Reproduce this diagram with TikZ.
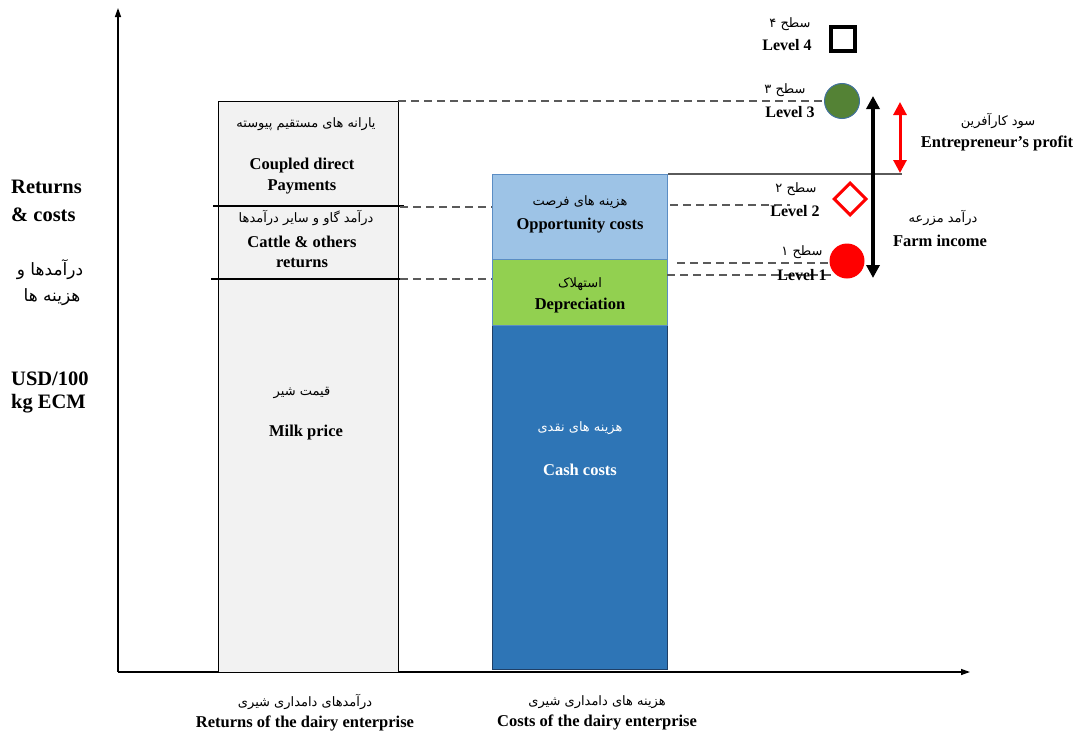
\documentclass[tikz,border=0pt]{standalone}
\usepackage{fontspec}
\setmainfont{Liberation Serif}
\newfontfamily\fa[Script=Arabic]{DejaVu Sans}
\TeXXeTstate=1
\usetikzlibrary{arrows.meta,shapes.geometric}
\definecolor{boxgray}{HTML}{F2F2F2}
\definecolor{oppblue}{HTML}{9DC3E6}
\definecolor{oppedge}{HTML}{5B8DC4}
\definecolor{depgreen}{HTML}{92D050}
\definecolor{cashblue}{HTML}{2E75B6}
\definecolor{cashedge}{HTML}{1F3F66}
\definecolor{lvgreen}{HTML}{548235}
\definecolor{lvedge}{HTML}{41719C}
\definecolor{dashgray}{HTML}{5A5A5A}
\newcommand{\pr}[1]{{\fa\beginR #1\endR}}
\begin{document}
\begin{tikzpicture}[x=1pt,y=-1pt,
  en/.style={font=\bfseries\fontsize{16.5}{19}\selectfont, align=center, inner sep=0pt},
  enlv/.style={font=\bfseries\fontsize{16}{18}\selectfont, align=center, inner sep=0pt},
  enL/.style={font=\bfseries\fontsize{20.5}{24}\selectfont, align=left, inner sep=0pt},
  fa/.style={font=\fa\fontsize{13}{15}\selectfont, inner sep=0pt},
  faL/.style={font=\fa\fontsize{17}{20}\selectfont, inner sep=0pt},
  bar/.style={draw, anchor=north west, inner sep=0pt, line width=1.2pt},
  dashline/.style={draw=dashgray, line width=1.2pt, dash pattern=on 8pt off 5pt},
  axis/.style={line width=1.3pt, -{Triangle[length=9pt,width=6pt]}},
  bigarrow/.style={line width=3.5pt, {Triangle[length=13pt,width=13pt]}-{Triangle[length=13pt,width=13pt]}}
]
\useasboundingbox (0,0) rectangle (1081,736);

% axes
\coordinate (O) at (118,672);
\coordinate (ytop) at (118,8);
\coordinate (xend) at (970,672);
\draw[axis] (O) -- (ytop);
\draw[axis] (O) -- (xend);

% returns bar
\node[bar, fill=boxgray, minimum width=180pt, minimum height=571pt] (ret) at (218,101) {};
\coordinate (r1l) at (213,206); \coordinate (r1r) at (404,206);
\coordinate (r2l) at (211,279); \coordinate (r2r) at (404,279);
\draw[line width=1.2pt] (r1l) -- (r1r);
\draw[line width=1.2pt] (r2l) -- (r2r);

% cost bar
\node[bar, draw=cashedge, fill=cashblue, minimum width=175pt, minimum height=344pt] (cash) at (492,325) {};
\node[bar, draw=oppedge, fill=depgreen, minimum width=175pt, minimum height=66pt] (dep) at (492,259) {};
\node[bar, draw=oppedge, fill=oppblue, minimum width=175pt, minimum height=85pt] (opp) at (492,174) {};

% level markers
\node[draw, line width=4.5pt, minimum size=24pt, inner sep=0pt] (lv4) at (843,39) {};
\node[circle, draw=lvedge, fill=lvgreen, line width=1pt, minimum size=35pt, inner sep=0pt] (lv3) at (842,101) {};
\node[diamond, draw=red, line width=3pt, minimum size=33pt, inner sep=0pt] (lv2) at (850,199) {};
\node[circle, fill=red, minimum size=35pt, inner sep=0pt] (lv1) at (847,261) {};

% solid line at top of cost bar
\coordinate (topend) at (902,174);
\draw[line width=1.2pt, draw=dashgray] (opp.north east) -- (topend);

% dashed lines
\coordinate (d3b) at (398,101);
\draw[dashline] (d3b) -- (lv3.west);
\coordinate (da1) at (400,207); \coordinate (da2) at (492,207);
\draw[dashline] (da1) -- (da2);
\coordinate (db1) at (400,279); \coordinate (db2) at (492,279);
\draw[dashline] (db1) -- (db2);
\coordinate (dc1) at (670,205); \coordinate (dc2) at (790,205);
\draw[dashline] (dc1) -- (dc2);
\coordinate (dd1) at (677,263); \coordinate (dd2) at (832,263);
\draw[dashline] (dd1) -- (dd2);
\coordinate (de1) at (667,275); \coordinate (de2) at (832,275);
\draw[dashline] (de1) -- (de2);

% vertical arrows
\coordinate (fa1) at (873,96); \coordinate (fa2) at (873,278);
\draw[bigarrow] (fa1) -- (fa2);
\coordinate (ep1) at (900,102); \coordinate (ep2) at (900,173);
\draw[bigarrow, red, line width=3pt] (ep1) -- (ep2);

% axis labels
\node[enL, anchor=west] (ylab1) at (11,187) {Returns};
\node[enL, anchor=west] (ylab2) at (11,215) {\&\ costs};
\node[faL] (ylab3) at (50,270) {\pr{درآمدها و}};
\node[faL] (ylab4) at (52,297) {\pr{هزینه ها}};
\node[enL, anchor=west] (ylab5) at (11,379) {USD/100};
\node[enL, anchor=west] (ylab6) at (11,404) {kg ECM};

% returns bar texts
\node[fa] (t1) at (306,124) {\pr{یارانه های مستقیم پیوسته}};
\node[en] (t2) at (302,166) {Coupled direct};
\node[en] (t3) at (302,187) {Payments};
\node[fa] (t4) at (306,218) {\pr{درآمد گاو و سایر درآمدها}};
\node[en] (t5) at (302,242) {Cattle \&\ others};
\node[en] (t6) at (302,263) {returns};
\node[fa] (t7) at (302,393) {\pr{قیمت شیر}};
\node[en] (t8) at (306,433) {Milk price};

% cost bar texts
\node[fa] (c1) at (580,202) {\pr{هزینه های فرصت}};
\node[en] (c2) at (580,226) {Opportunity costs};
\node[fa] (c3) at (580,284) {\pr{استهلاک}};
\node[en] (c4) at (580,306) {Depreciation};
\node[fa, text=white] (c5) at (580,428) {\pr{هزینه های نقدی}};
\node[en, text=white] (c6) at (580,470) {Cash costs};

% level labels
\node[fa] (l4a) at (790,24) {\pr{سطح ۴}};
\node[enlv] (l4b) at (787,45) {Level 4};
\node[fa] (l3a) at (785,90) {\pr{سطح ۳}};
\node[enlv] (l3b) at (790,112) {Level 3};
\node[fa] (l2a) at (796,189) {\pr{سطح ۲}};
\node[enlv] (l2b) at (795,211) {Level 2};
\node[fa] (l1a) at (802,252) {\pr{سطح ۱}};
\node[enlv] (l1b) at (802,275) {Level 1};

% right labels
\node[fa] (p1) at (998,121) {\pr{سود کارآفرین}};
\node[en] (p2) at (997,143) {Entrepreneur’s profit};
\node[fa] (f1) at (943,218) {\pr{درآمد مزرعه}};
\node[en] (f2) at (940,241) {Farm income};

% bottom labels
\node[fa] (b1) at (305,702) {\pr{درآمدهای دامداری شیری}};
\node[en] (b2) at (305,723) {Returns of the dairy enterprise};
\node[fa] (b3) at (597,702) {\pr{هزینه های دامداری شیری}};
\node[en] (b4) at (597,722) {Costs of the dairy enterprise};
\end{tikzpicture}
\end{document}
